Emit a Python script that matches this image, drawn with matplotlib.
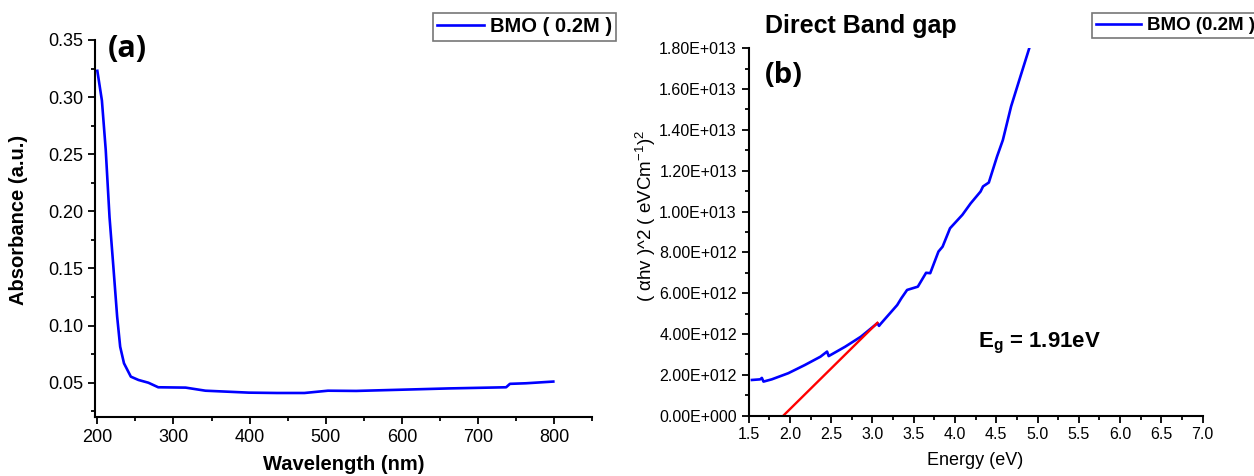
import numpy as np
import matplotlib
matplotlib.use('Agg')
import matplotlib.pyplot as plt
from matplotlib.ticker import MultipleLocator, FuncFormatter

plt.rcParams['font.family'] = ['Liberation Sans', 'DejaVu Sans']
plt.rcParams['mathtext.fontset'] = 'custom'
plt.rcParams['mathtext.rm'] = 'Liberation Sans'
plt.rcParams['mathtext.it'] = 'Liberation Sans:italic'
plt.rcParams['mathtext.bf'] = 'Liberation Sans:bold'

# panel (a): absorbance spectrum
wavelength = [200, 206, 211, 216, 221, 226, 230, 235, 244, 254, 267, 280, 316, 342,
              399, 436, 472, 503, 540, 618, 662, 737, 742, 763, 799]
absorbance = [0.323, 0.297, 0.254, 0.195, 0.152, 0.108, 0.0815, 0.067, 0.0553, 0.0524,
              0.050, 0.046, 0.0457, 0.043, 0.0413, 0.041, 0.041, 0.043, 0.0428, 0.0442,
              0.045, 0.046, 0.049, 0.0495, 0.051]

# panel (b): (alpha h nu)^2 vs energy, values in units of 1e12
energy = [1.54, 1.64, 1.66, 1.68, 1.78, 1.98, 2.18, 2.37, 2.45, 2.47, 2.67, 2.86, 3.06,
          3.08, 3.10, 3.30, 3.35, 3.42, 3.55, 3.65, 3.70, 3.80, 3.85, 3.94, 4.09, 4.19,
          4.31, 4.34, 4.41, 4.51, 4.58, 4.68, 4.78, 4.90]
ahv2 = [1.75, 1.78, 1.85, 1.67, 1.78, 2.08, 2.48, 2.89, 3.14, 2.92, 3.38, 3.87, 4.53,
        4.40, 4.50, 5.42, 5.75, 6.16, 6.32, 7.00, 6.98, 8.04, 8.28, 9.18, 9.84, 10.4,
        10.98, 11.23, 11.42, 12.7, 13.5, 15.15, 16.45, 18.0]
fit_x = [1.92, 3.06]
fit_y = [0.0, 4.55]

blue = '#0000ff'
fig = plt.figure(figsize=(12.54, 4.76), dpi=100)

# ---- panel (a)
ax1 = fig.add_axes([0.0758, 0.124, 0.3964, 0.792])
ax1.plot(wavelength, absorbance, color=blue, lw=1.9, label='BMO ( 0.2M )')
ax1.set_xlim(197, 850)
ax1.set_ylim(0.02, 0.35)
ax1.xaxis.set_major_locator(MultipleLocator(100))
ax1.xaxis.set_minor_locator(MultipleLocator(50))
ax1.yaxis.set_major_locator(MultipleLocator(0.05))
ax1.yaxis.set_minor_locator(MultipleLocator(0.025))
ax1.xaxis.set_major_formatter(FuncFormatter(lambda v, p: f'{v:.0f}'))
ax1.yaxis.set_major_formatter(FuncFormatter(lambda v, p: f'{v:.2f}'))
ax1.set_xlabel('Wavelength (nm)', fontsize=14.5, fontweight='bold')
ax1.set_ylabel('Absorbance (a.u.)', fontsize=14.5, fontweight='bold')
ax1.xaxis.set_label_coords(0.5, -0.1)
ax1.yaxis.set_label_coords(-0.135, 0.5225)
ax1.text(0.026, 1.015, '(a)', transform=ax1.transAxes, fontsize=22, fontweight='bold',
         family='Open Sans', va='top', ha='left')

# ---- panel (b)
ax2 = fig.add_axes([0.597, 0.1267, 0.362, 0.772])
ax2.plot(energy, np.array(ahv2) * 1e12, color=blue, lw=1.9, label='BMO (0.2M )')
ax2.plot(fit_x, np.array(fit_y) * 1e12, color='#ff0000', lw=1.7)
ax2.set_xlim(1.5, 7.0)
ax2.set_ylim(0, 1.8e13)
ax2.xaxis.set_major_locator(MultipleLocator(0.5))
ax2.xaxis.set_minor_locator(MultipleLocator(0.25))
ax2.yaxis.set_major_locator(MultipleLocator(2e12))
ax2.yaxis.set_minor_locator(MultipleLocator(1e12))
ax2.xaxis.set_major_formatter(FuncFormatter(lambda v, p: f'{v:.1f}'))


def sci_fmt(v, p):
    if v == 0:
        return '0.00E+000'
    e = int(np.floor(np.log10(abs(v)) + 1e-9))
    return f'{v / 10**e:.2f}E+{e:03d}'


ax2.yaxis.set_major_formatter(FuncFormatter(sci_fmt))
ax2.set_xlabel('Energy (eV)', fontsize=13)
ax2.set_ylabel(r'( αhv )^2 ( eVCm$^{-1}$)$^{2}$', fontsize=13.5)
ax2.xaxis.set_label_coords(0.5, -0.098)
ax2.yaxis.set_label_coords(-0.200, 0.543)
ax2.set_title('Direct Band gap', fontsize=18, fontweight='bold', loc='left',
              x=0.035, pad=11)
ax2.text(0.035, 0.965, '(b)', transform=ax2.transAxes, fontsize=21, fontweight='bold',
         family='Open Sans', va='top', ha='left')
ax2.text(0.505, 0.163, r'E$_{\mathbf{g}}$ = 1.91eV', transform=ax2.transAxes,
         fontsize=16, fontweight='bold', ha='left', va='bottom')

for ax, ls in ((ax1, 13), (ax2, 11.5)):
    for s in ('top', 'right'):
        ax.spines[s].set_visible(False)
    for s in ('left', 'bottom'):
        ax.spines[s].set_linewidth(1.5)
    ax.tick_params(which='major', direction='out', length=5, width=1.3, labelsize=ls)
    ax.tick_params(which='minor', direction='out', length=3, width=1.3)

leg_kw = dict(frameon=True, fancybox=False, borderpad=0.22,
              handletextpad=0.3, borderaxespad=0, bbox_transform=fig.transFigure)
l1 = ax1.legend(loc='upper left', bbox_to_anchor=(433 / 1254, 1 - 13 / 476),
                handlelength=2.3, prop={'weight': 'bold', 'size': 14.5}, **leg_kw)
l2 = ax2.legend(loc='upper left', bbox_to_anchor=(1092 / 1254, 1 - 13 / 476),
                handlelength=2.4, prop={'weight': 'bold', 'size': 13.5}, **leg_kw)
for lg in (l1, l2):
    lg.get_frame().set_edgecolor('#555555')
    lg.get_frame().set_linewidth(1.2)

fig.savefig('out.png', dpi=100)
